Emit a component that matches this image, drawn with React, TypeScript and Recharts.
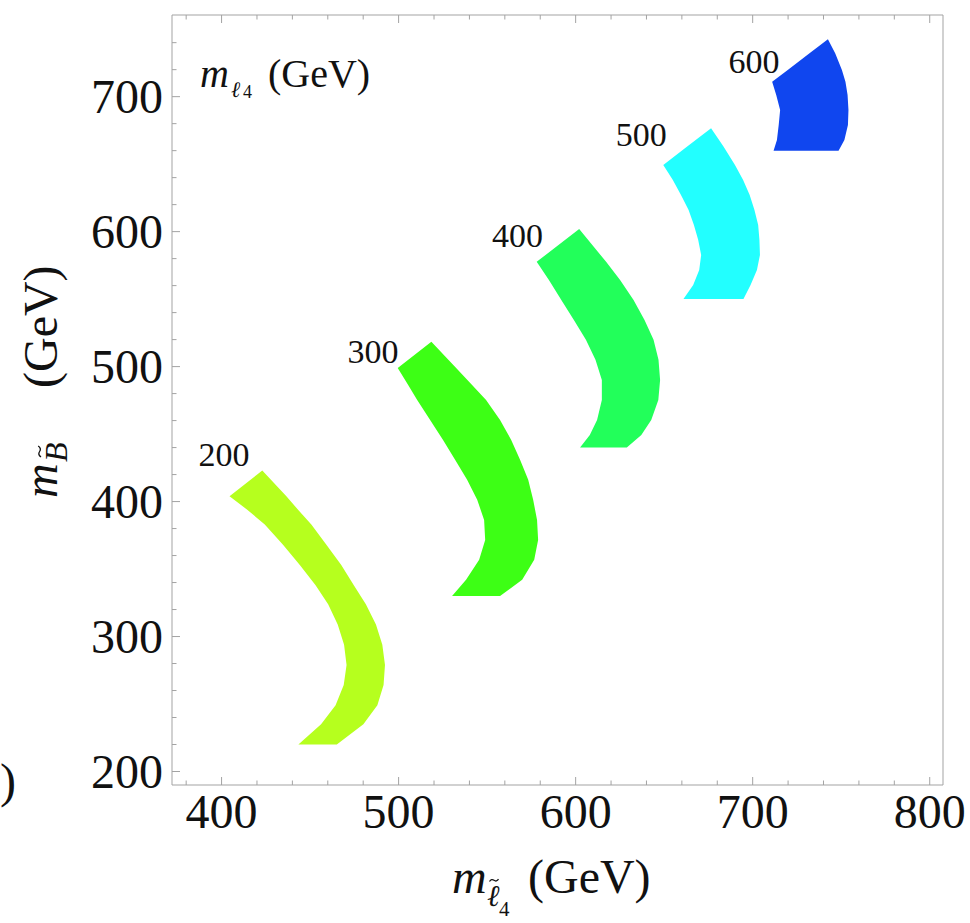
import React from "react";
import { Area, ComposedChart, ReferenceDot, XAxis, YAxis } from "recharts";

const FONT = '"Liberation Serif", "Times New Roman", Times, serif';
const FRAME = "#a3a3a3";
const INK = "#111111";

// rows: [m_B, inner m_slepton, outer m_slepton] in GeV, top of each band first
const band200: [number, number, number][] = [
  [423, 423, 423],
  [404, 404.5, 436.6],
  [394, 414.5, 443.2],
  [383, 424.4, 450.7],
  [368, 434.7, 459.2],
  [353, 444.2, 467.6],
  [338, 453.1, 474.7],
  [324, 460.2, 481.5],
  [309, 465.6, 487.2],
  [294, 469.2, 490.8],
  [279, 470.6, 492.3],
  [264, 469.0, 491.5],
  [249, 464.4, 488.0],
  [235, 456.2, 480.1],
  [220, 443.4, 465.1],
];

const band300: [number, number, number][] = [
  [518.5, 518.5, 518.5],
  [499, 499.5, 532.5],
  [486.4, 505.4, 541.5],
  [475.3, 510.5, 549.4],
  [460.5, 517.8, 557.3],
  [445.7, 525.1, 563.6],
  [430.9, 531.9, 568.6],
  [416.1, 538.7, 573.2],
  [401.3, 544.4, 576.0],
  [386.4, 548.3, 578.2],
  [371.6, 548.9, 578.8],
  [356.8, 545.5, 576.6],
  [342, 538.1, 569.8],
  [330, 530.2, 557.3],
];

const band400: [number, number, number][] = [
  [602, 602, 602],
  [577.6, 578, 617.2],
  [564.2, 584.9, 625.1],
  [549.4, 591.9, 632.7],
  [534.6, 599.0, 638.9],
  [519.8, 605.8, 644.0],
  [505, 611.2, 646.8],
  [490.1, 614.8, 647.7],
  [475.3, 614.8, 646.7],
  [460.5, 612.1, 642.7],
  [449.4, 608.0, 637.1],
  [440, 602.5, 628.9],
];

const band500: [number, number, number][] = [
  [676.5, 676.5, 676.5],
  [663, 663, 683.5],
  [649.4, 649.5, 690.0],
  [638.3, 654.9, 694.6],
  [627.2, 659.5, 698.3],
  [616.1, 663.8, 701.0],
  [605, 666.8, 703.1],
  [593.9, 669.2, 703.8],
  [582.7, 670.9, 704.1],
  [571.6, 669.8, 702.4],
  [560.5, 666.4, 698.8],
  [550, 660.9, 694.8],
];

const band600: [number, number, number][] = [
  [742.5, 742.5, 742.5],
  [732.1, 732.1, 746.6],
  [719.8, 719.8, 750.4],
  [711, 711, 752.4],
  [701.3, 713.3, 753.6],
  [690.1, 715.5, 754.1],
  [679, 714.7, 753.8],
  [667.9, 713.7, 751.8],
  [660, 711.8, 748.5],
];

const bands = [band200, band300, band400, band500, band600];
const bandNames = ["200", "300", "400", "500", "600"];
const bandColors = ["#b6ff1e", "#3dff15", "#22ff5a", "#22ffff", "#1046ef"];
const labelX = [401.4, 485.6, 567.2, 637.0, 700.8];
const labelY = [435.3, 511.6, 597.6, 672.4, 726.4];

const xTicks = [380, 400, 420, 440, 460, 480, 500, 520, 540, 560, 580, 600, 620, 640, 660, 680, 700, 720, 740, 760, 780, 800];
const yTicks = [200, 220, 240, 260, 280, 300, 320, 340, 360, 380, 400, 420, 440, 460, 480, 500, 520, 540, 560, 580, 600, 620, 640, 660, 680, 700, 720, 740];
const xMajor = [400, 500, 600, 700, 800];
const yMajor = [200, 300, 400, 500, 600, 700];

const toRows = (band: [number, number, number][]) =>
  band.map(([y, lo, hi]) => ({ y, r: [lo, hi] }));

function BottomTick({ x, y, payload }: any) {
  const major = xMajor.includes(payload.value);
  return (
    <g>
      <line x1={x} y1={y} x2={x} y2={y - (major ? 8 : 4.5)} stroke={FRAME} />
      {major && (
        <text x={x} y={y + 43} textAnchor="middle" fontSize={48} fontFamily={FONT} fill={INK}>
          {payload.value}
        </text>
      )}
    </g>
  );
}

function LeftTick({ x, y, payload }: any) {
  const major = yMajor.includes(payload.value);
  return (
    <g>
      <line x1={x} y1={y} x2={x + (major ? 8 : 4.5)} y2={y} stroke={FRAME} />
      {major && (
        <text x={x - 9} y={y + 16} textAnchor="end" fontSize={48} fontFamily={FONT} fill={INK}>
          {payload.value}
        </text>
      )}
    </g>
  );
}

function TopTick({ x, y, payload }: any) {
  const major = xMajor.includes(payload.value);
  return <line x1={x} y1={y} x2={x} y2={y + (major ? 8 : 4.5)} stroke={FRAME} />;
}

function RightTick({ x, y, payload }: any) {
  const major = yMajor.includes(payload.value);
  return <line x1={x} y1={y} x2={x - (major ? 8 : 4.5)} y2={y} stroke={FRAME} />;
}

export default function App() {
  return (
    <div style={{ position: "absolute", left: 0, top: 0, width: 970, height: 923, background: "#fff" }}>
      <ComposedChart
        width={970}
        height={923}
        layout="vertical"
        margin={{ top: 14, right: 26, bottom: 8, left: 12 }}
      >
        <XAxis
          xAxisId="b"
          type="number"
          domain={[372, 807.5]}
          allowDataOverflow
          ticks={xTicks}
          interval={0}
          height={130}
          tickSize={0}
          tickMargin={0}
          tickLine={false}
          axisLine={{ stroke: FRAME }}
          tick={<BottomTick />}
        />
        <XAxis
          xAxisId="t"
          orientation="top"
          type="number"
          domain={[372, 807.5]}
          allowDataOverflow
          ticks={xTicks}
          interval={0}
          height={1}
          tickSize={0}
          tickMargin={0}
          tickLine={false}
          axisLine={{ stroke: FRAME }}
          tick={<TopTick />}
        />
        <YAxis
          yAxisId="l"
          type="number"
          dataKey="y"
          reversed
          domain={[190, 760.5]}
          allowDataOverflow
          ticks={yTicks}
          interval={0}
          width={160}
          tickSize={0}
          tickMargin={0}
          tickLine={false}
          axisLine={{ stroke: FRAME }}
          tick={<LeftTick />}
        />
        <YAxis
          yAxisId="r"
          orientation="right"
          type="number"
          reversed
          domain={[190, 760.5]}
          allowDataOverflow
          ticks={yTicks}
          interval={0}
          width={1}
          tickSize={0}
          tickMargin={0}
          tickLine={false}
          axisLine={{ stroke: FRAME }}
          tick={<RightTick />}
        />
        {bands.map((band, i) => (
          <Area
            key={bandNames[i]}
            data={toRows(band)}
            xAxisId="b"
            yAxisId="l"
            dataKey="r"
            type="linear"
            stroke="none"
            fill={bandColors[i]}
            fillOpacity={1}
            dot={false}
            activeDot={false}
            isAnimationActive={false}
          />
        ))}
        {bandNames.map((name, i) => (
          <ReferenceDot
            key={"lbl" + name}
            xAxisId="b"
            yAxisId="l"
            x={labelX[i]}
            y={labelY[i]}
            r={0}
            shape={(p: any) => (
              <text x={p.cx} y={p.cy + 12} textAnchor="middle" fontSize={34} fontFamily={FONT} fill={INK}>
                {name}
              </text>
            )}
          />
        ))}
      </ComposedChart>
      <svg
        width={970}
        height={923}
        style={{ position: "absolute", left: 0, top: 0, pointerEvents: "none" }}
      >
        <text y={87} fontFamily={FONT} fontSize={40} fill={INK}>
          <tspan x={200} fontStyle="italic">m</tspan>
          <tspan x={231} y={97} fontSize={22} fontStyle="italic">ℓ</tspan>
          <tspan x={243} y={98} fontSize={18}>4</tspan>
          <tspan x={268} y={87}>(GeV)</tspan>
        </text>
        <text y={893} fontFamily={FONT} fontSize={48} fill={INK}>
          <tspan x={452} fontStyle="italic">m</tspan>
          <tspan x={487} y={906} fontSize={30} fontStyle="italic">ℓ</tspan>
          <tspan x={499} y={916} fontSize={21}>4</tspan>
          <tspan x={528} y={893}>(GeV)</tspan>
        </text>
        {/* tilde accent over the slepton symbol */}
        <path d="M489.5 881.5 q2 -3 4.5 -1.2 t4.5 -1.2" stroke={INK} strokeWidth={1.3} fill="none" />
        <g transform="translate(57, 498) rotate(-90)">
          <text y={0} fontFamily={FONT} fontSize={48} fill={INK}>
            <tspan x={0} fontStyle="italic">m</tspan>
            <tspan x={36} y={10} fontSize={32} fontStyle="italic">B</tspan>
            <tspan x={110} y={0}>(GeV)</tspan>
          </text>
          <path d="M41 -16 q2.5 -3.5 5.5 -1.4 t5.5 -1.4" stroke={INK} strokeWidth={1.3} fill="none" />
        </g>
        <text x={0} y={797} fontFamily={FONT} fontSize={48} fill={INK}>)</text>
      </svg>
    </div>
  );
}
